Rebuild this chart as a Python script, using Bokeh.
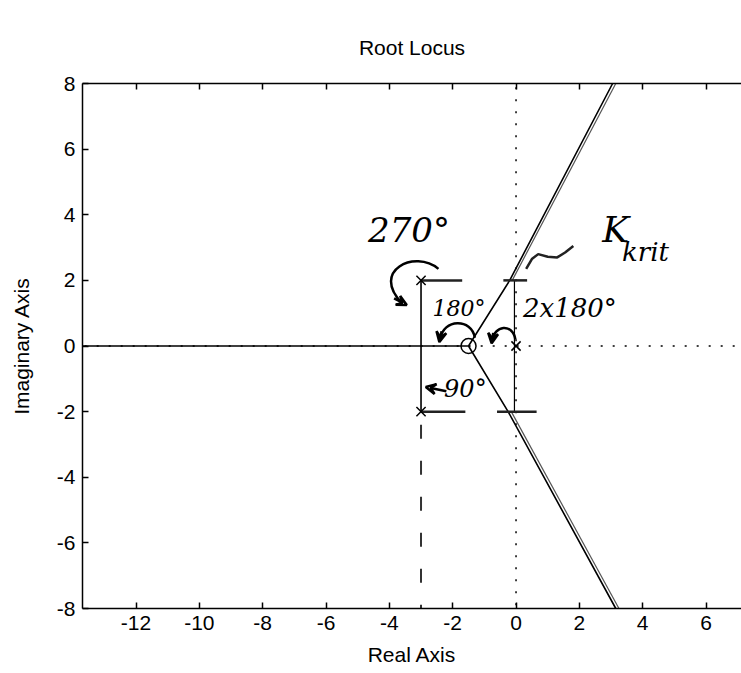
from bokeh.plotting import figure
from bokeh.embed import file_html
from bokeh.resources import INLINE
from bokeh.models import FixedTicker, LinearAxis, Arrow, VeeHead, CustomJSTickFormatter
from bokeh.core.properties import value

# ---- data ----
x_ticks = [-12, -10, -8, -6, -4, -2, 0, 2, 4, 6]
x_tick_labels = ["-12", "-10", "-8", "-6", "-4", "-2", "0", "2", "4", "6"]
y_ticks = [-8, -6, -4, -2, 0, 2, 4, 6, 8]
y_tick_labels = ["-8", "-6", "-4", "-2", "0", "2", "4", "6", "8"]

pole_x = [-3, -3, 0]
pole_y = [2, -2, 0]
zero_x = [-1.5]
zero_y = [0]

# locus branches
real_branch_x = [-14.0, -3.0, -1.5]
real_branch_y = [0, 0, 0]
cplx_branch_x = [-3, -3, -3]
cplx_branch_y = [2, 0, -2]
upper_x = [-1.5, -0.2, 3.05, 4.4]
upper_y = [0, 2.0, 8.0, 10.4]
lower_x = [-1.5, -0.25, 3.15, 3.8]
lower_y = [0, -2.0, -8.0, -9.2]
# hand-drawn traces
upper2_x = [-0.12, 3.15]
upper2_y = [2.0, 8.0]
lower2_x = [-0.15, 3.25]
lower2_y = [-2.0, -8.0]
origin_vert_x = [-0.05, -0.05]
origin_vert_y = [2.0, -2.0]
dash_x = [-3, -3]
dash_y = [-2.4, -8.0]
marks_x0 = [-3.0, -0.4, -3.0, -0.6]
marks_x1 = [-1.7, 0.35, -1.6, 0.65]
marks_y = [2.0, 2.0, -2.0, -2.0]
squig_x = [0.32, 0.5, 0.7, 1.0, 1.3, 1.55, 1.81]
squig_y = [2.35, 2.65, 2.8, 2.72, 2.7, 2.85, 3.05]

ann_text = ["270°", "180°", "2x180°", "90°", "K"]
ann_x = [-3.38, -1.8, 1.7, -1.6, 3.15]
ann_y = [3.55, 1.15, 1.15, -1.3, 3.55]
ann_size = ["34px", "22px", "26px", "24px", "36px"]

font = "Liberation Sans"

p = figure(width=741, height=673, x_range=(-13.69, 7.12), y_range=(-8, 8),
           output_backend="svg", toolbar_location=None,
           min_border_left=82, min_border_right=0, min_border_top=83, min_border_bottom=65)
p.title.text = "Root Locus"
p.title.align = "center"
p.title.text_font = font
p.title.text_font_size = "21px"
p.title.text_font_style = "normal"
p.title.text_color = "black"
p.title.standoff = 50
p.outline_line_color = None
p.grid.visible = False
p.background_fill_color = "white"
p.border_fill_color = "white"

for ax, ticks, labels in ((p.xaxis[0], x_ticks, x_tick_labels), (p.yaxis[0], y_ticks, y_tick_labels)):
    ax.ticker = FixedTicker(ticks=ticks)
    ax.major_label_overrides = {t: l for t, l in zip(ticks, labels)}
    ax.major_tick_in = 6
    ax.major_tick_out = 0
    ax.minor_tick_in = 0
    ax.minor_tick_out = 0
    ax.axis_line_color = "black"
    ax.axis_line_width = 1.5
    ax.major_tick_line_width = 1.5
    ax.major_label_text_font = font
    ax.major_label_text_font_size = "21px"
    ax.major_label_text_color = "black"
    ax.axis_label_text_font = font
    ax.axis_label_text_font_size = "21px"
    ax.axis_label_text_font_style = "normal"
    ax.axis_label_text_color = "black"

p.xaxis.axis_label = "Real Axis"
p.yaxis.axis_label = "Imaginary Axis"
p.xaxis.major_label_standoff = 7
p.xaxis.axis_label_standoff = 10
p.yaxis.major_label_standoff = 7
p.yaxis.axis_label_standoff = 21

top = LinearAxis(ticker=FixedTicker(ticks=x_ticks),
                 formatter=CustomJSTickFormatter(code="return ''"),
                 major_tick_in=6, major_tick_out=0, minor_tick_in=0, minor_tick_out=0,
                 axis_line_width=1.5, major_tick_line_width=1.5, major_label_standoff=0)
p.add_layout(top, "above")

# dotted axes lines
p.line([0, 0], [-9, 9], line_color="black", line_dash="2 10", line_width=1.5)
p.line([-14, 8], [0, 0], line_color="black", line_dash="2 10", line_width=1.5)

# locus
lw = 1.6
p.line(real_branch_x, real_branch_y, line_color="black", line_width=lw)
p.line(cplx_branch_x, cplx_branch_y, line_color="black", line_width=lw)
p.line(upper_x, upper_y, line_color="black", line_width=lw)
p.line(lower_x, lower_y, line_color="black", line_width=lw)
p.line(upper2_x, upper2_y, line_color="#555555", line_width=1.2)
p.line(lower2_x, lower2_y, line_color="#555555", line_width=1.2)
p.line(origin_vert_x, origin_vert_y, line_color="black", line_width=1.2)
p.line(dash_x, dash_y, line_color="#333333", line_width=2, line_dash="14 22")
p.segment(x0=marks_x0, y0=marks_y, x1=marks_x1, y1=marks_y, line_color="#222222", line_width=2.5)
p.line(squig_x, squig_y, line_color="#222222", line_width=2.5)

p.scatter(pole_x, pole_y, marker="x", size=13, line_color="black", line_width=1.5)
p.scatter(zero_x, zero_y, marker="circle", size=15, fill_color=None, line_color="black", line_width=1.5)

# handwritten annotations
for t, x, y, s in zip(ann_text, ann_x, ann_y, ann_size):
    p.text(x=[x], y=[y], text=[t], text_font=value("DejaVu Serif"), text_font_style="italic",
           text_font_size=s, text_align="center", text_baseline="middle", text_color="black")
p.text(x=[3.35], y=[2.88], text=["krit"], text_font=value("DejaVu Serif"), text_font_style="italic",
       text_font_size="26px", text_align="left", text_baseline="middle", text_color="black")

# curved arrows
p.bezier(x0=[-2.45, -1.3, -0.02], y0=[2.35, 0.25, 0.2],
         x1=[-3.6, -2.4, -0.75], y1=[1.3, 0.2, 0.15],
         cx0=[-3.2, -1.4, -0.1], cy0=[2.95, 0.85, 0.7],
         cx1=[-4.6, -2.3, -0.7], cy1=[2.3, 0.85, 0.65],
         line_color="black", line_width=2.5)
for xs, ys, xe, ye in [(-3.85, 1.45, -3.45, 1.25), (-2.35, 0.45, -2.42, 0.12),
                       (-0.72, 0.4, -0.77, 0.08), (-2.2, -1.38, -2.85, -1.25)]:
    p.add_layout(Arrow(end=VeeHead(size=10, line_width=2.5, fill_color=None),
                       x_start=xs, y_start=ys, x_end=xe, y_end=ye, line_width=2.5))

open("out.html", "w").write(file_html(p, INLINE))
